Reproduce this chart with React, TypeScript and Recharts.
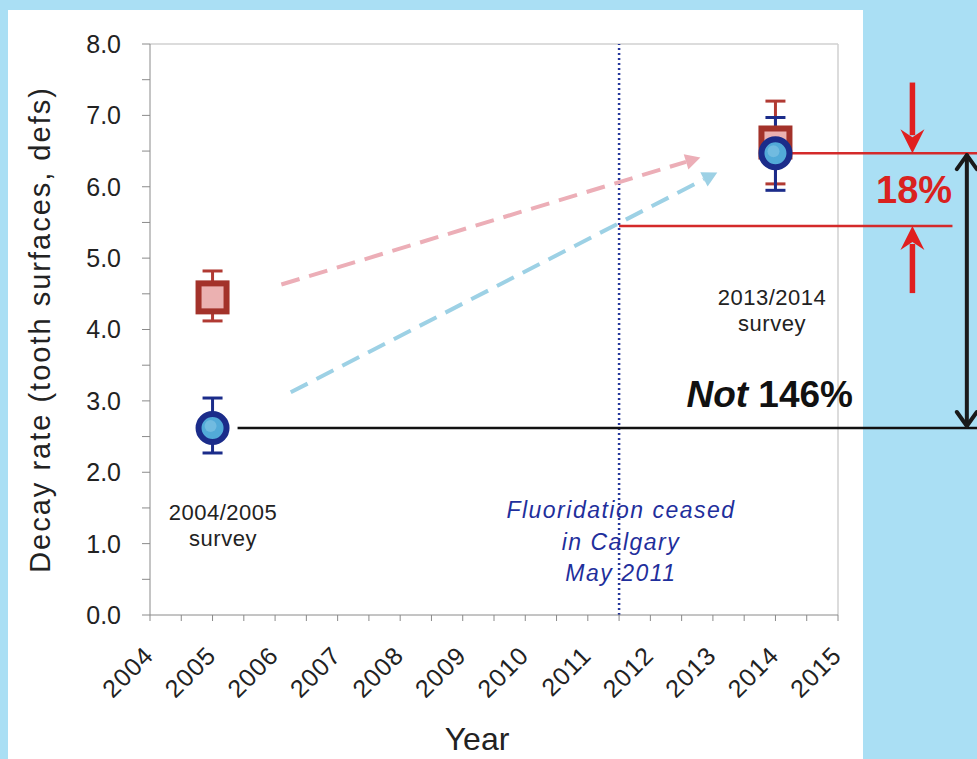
import React from 'react';
import {
  ScatterChart, Scatter, XAxis, YAxis, ErrorBar, ReferenceLine,
} from 'recharts';

// survey results
const surveyYears = [2005, 2014];
const preValues = [4.45, 6.62]; // red squares
const preErrLow = [0.33, 0.58];
const preErrHigh = [0.37, 0.58];
const postValues = [2.62, 6.47]; // blue circles
const postErrLow = [0.35, 0.52];
const postErrHigh = [0.42, 0.5];

const xTicks = [2004, 2004.5, 2005, 2005.5, 2006, 2006.5, 2007, 2007.5, 2008, 2008.5, 2009, 2009.5, 2010, 2010.5, 2011, 2011.5, 2012, 2012.5, 2013, 2013.5, 2014, 2014.5, 2015];
const yTicks = [0, 0.5, 1, 1.5, 2, 2.5, 3, 3.5, 4, 4.5, 5, 5.5, 6, 6.5, 7, 7.5, 8];

const ceasedYear = 2011.5;
// trend arrows [x1, y1, x2, y2]
const pinkTrend = [2006.1, 4.63, 2012.8, 6.41];
const blueTrend = [2006.25, 3.12, 2013.07, 6.2];
// annotation levels
const level2014 = 6.47;
const levelCeased = 5.45;
const level2005 = 2.62;

const FONT = '"Liberation Sans", Arial, sans-serif';

const redData = surveyYears.map((x, i) => ({ x, y: preValues[i], err: [preErrLow[i], preErrHigh[i]] }));
const blueData = surveyYears.map((x, i) => ({ x, y: postValues[i], err: [postErrLow[i], postErrHigh[i]] }));

const SquareShape = (p: any) => (
  <rect x={p.cx - 14} y={p.cy - 14} width={28} height={28} fill="#ebb1b1" stroke="#a3322a" strokeWidth={6} />
);
const CircleShape = (p: any) => (
  <g>
    <circle cx={p.cx} cy={p.cy} r={14} fill="#52aad8" stroke="#1b2c8a" strokeWidth={6} />
    <circle cx={p.cx - 2} cy={p.cy - 2} r={6} fill="#8fcbe8" opacity={0.5} />
  </g>
);

const XTick = ({ x, y, payload }: any) => {
  if (payload.value % 1 !== 0) return <g />;
  const ax = x + 5;
  const ay = y + 34;
  return (
    <text x={ax} y={ay} transform={`rotate(-45, ${ax}, ${ay})`} textAnchor="end"
      fontSize={25} letterSpacing={1} fontFamily={FONT} fill="#222">{payload.value}</text>
  );
};

const dashedArrow = (color: string) => (p: any) => {
  const { x1, y1, x2, y2 } = p;
  const a = Math.atan2(y2 - y1, x2 - x1);
  const L = 15, W = 8;
  const bx = x2 - L * Math.cos(a), by = y2 - L * Math.sin(a);
  const pts = `${x2},${y2} ${bx + W * Math.sin(a)},${by - W * Math.cos(a)} ${bx - W * Math.sin(a)},${by + W * Math.cos(a)}`;
  return (
    <g>
      <line x1={x1} y1={y1} x2={bx} y2={by} stroke={color} strokeWidth={4} strokeDasharray="19 10" />
      <polygon points={pts} fill={color} />
    </g>
  );
};

const solidArrow = (p: any) => {
  const { x1, y1, x2, y2 } = p;
  const dir = y2 > y1 ? 1 : -1;
  return (
    <g>
      <line x1={x1} y1={y1} x2={x2} y2={y2 - dir * 18} stroke="#e01f1f" strokeWidth={5.5} />
      <polygon points={`${x2},${y2} ${x2 - 12},${y2 - dir * 24} ${x2},${y2 - dir * 16} ${x2 + 12},${y2 - dir * 24}`} fill="#e01f1f" />
    </g>
  );
};

const doubleArrow = (p: any) => {
  const { x1, y1, y2 } = p;
  const top = Math.min(y1, y2), bot = Math.max(y1, y2);
  return (
    <g stroke="#1a1a1a" strokeWidth={4} fill="none" strokeLinecap="round" strokeLinejoin="round">
      <line x1={x1} y1={top + 2} x2={x1} y2={bot - 2} />
      <polyline points={`${x1 - 10},${top + 16} ${x1},${top + 2} ${x1 + 10},${top + 16}`} />
      <polyline points={`${x1 - 10},${bot - 16} ${x1},${bot - 2} ${x1 + 10},${bot - 16}`} />
    </g>
  );
};

export default function App() {
  return (
    <div style={{ position: 'absolute', left: 0, top: 0, width: 977, height: 759, background: '#aadff4', overflow: 'hidden' }}>
      <div style={{ position: 'absolute', left: 8, top: 10, width: 855, height: 760, background: '#fff' }} />
      <div style={{ position: 'absolute', left: 0, top: 0 }}>
        <ScatterChart width={977} height={759} margin={{ top: 44, right: 139, bottom: 0, left: 0 }}>
          <XAxis type="number" dataKey="x" domain={[2004, 2015]} ticks={xTicks} interval={0} height={144}
            stroke="#8a8a8a" tickSize={6} tickMargin={2} tick={<XTick />}
            label={{ value: 'Year', position: 'insideBottom', offset: 9, dx: -17, fontSize: 32, fontFamily: FONT, fill: '#222' }} />
          <YAxis type="number" dataKey="y" domain={[0, 8]} ticks={yTicks} interval={0} width={150}
            stroke="#8a8a8a" tickSize={8} tickMargin={21}
            tickFormatter={(v: number) => (v % 1 === 0 ? v.toFixed(1) : '')}
            tick={{ fontSize: 25, fontFamily: FONT, fill: '#222' }}
            label={{ value: 'Decay rate (tooth surfaces, defs)', angle: -90, position: 'insideLeft', offset: 40,
              style: { textAnchor: 'middle', letterSpacing: 2 }, fontSize: 29, fontFamily: FONT, fill: '#222' }} />

          <ReferenceLine y={8} stroke="#d0d0d0" strokeWidth={1.5} />
          <ReferenceLine x={2015} stroke="#d0d0d0" strokeWidth={1.5} />
          <ReferenceLine x={ceasedYear} stroke="#24359a" strokeWidth={2.5} strokeDasharray="2 3" />

          <ReferenceLine ifOverflow="visible" segment={[{ x: 2005.4, y: level2005 }, { x: 2017.4, y: level2005 }]} stroke="#111" strokeWidth={2.5} />
          <ReferenceLine ifOverflow="visible" segment={[{ x: 2014, y: level2014 }, { x: 2017.4, y: level2014 }]} stroke="#d42a2a" strokeWidth={2.5} />
          <ReferenceLine ifOverflow="visible" segment={[{ x: ceasedYear, y: levelCeased }, { x: 2016.83, y: levelCeased }]} stroke="#d42a2a" strokeWidth={2.5} />

          <ReferenceLine ifOverflow="visible" segment={[{ x: pinkTrend[0], y: pinkTrend[1] }, { x: pinkTrend[2], y: pinkTrend[3] }]} shape={dashedArrow('#ecaeb7')} />
          <ReferenceLine ifOverflow="visible" segment={[{ x: blueTrend[0], y: blueTrend[1] }, { x: blueTrend[2], y: blueTrend[3] }]} shape={dashedArrow('#9dd1e5')} />

          <ReferenceLine ifOverflow="visible" segment={[{ x: 2016.19, y: 7.46 }, { x: 2016.19, y: level2014 }]} shape={solidArrow} />
          <ReferenceLine ifOverflow="visible" segment={[{ x: 2016.19, y: 4.51 }, { x: 2016.19, y: levelCeased }]} shape={solidArrow} />
          <ReferenceLine ifOverflow="visible" segment={[{ x: 2017.06, y: level2014 }, { x: 2017.06, y: level2005 }]} shape={doubleArrow} />

          <Scatter data={redData} shape={SquareShape} isAnimationActive={false}>
            <ErrorBar dataKey="err" direction="y" width={10} stroke="#b13a33" strokeWidth={3} />
          </Scatter>
          <Scatter data={blueData} shape={CircleShape} isAnimationActive={false}>
            <ErrorBar dataKey="err" direction="y" width={10} stroke="#1b2c8a" strokeWidth={3} />
          </Scatter>
        </ScatterChart>
      </div>

      <svg width={977} height={759} style={{ position: 'absolute', left: 0, top: 0, pointerEvents: 'none' }} fontFamily={FONT}>
        <g fontSize={22} letterSpacing={0.5} fill="#222" textAnchor="middle">
          <text x={223} y={520}>2004/2005</text>
          <text x={223} y={546}>survey</text>
          <text x={772} y={305}>2013/2014</text>
          <text x={772} y={331}>survey</text>
        </g>
        <g fontSize={23} letterSpacing={1.5} fill="#1f2f9c" fontStyle="italic" textAnchor="middle">
          <text x={621} y={518}>Fluoridation ceased</text>
          <text x={621} y={550}>in Calgary</text>
          <text x={621} y={581}>May 2011</text>
        </g>
        <text x={853} y={407} fontSize={37} fontWeight={700} fill="#111" textAnchor="end">
          <tspan fontStyle="italic">Not</tspan> 146%
        </text>
        <text x={876} y={203} fontSize={38} fontWeight={700} fill="#d9221f">18%</text>
      </svg>
    </div>
  );
}
